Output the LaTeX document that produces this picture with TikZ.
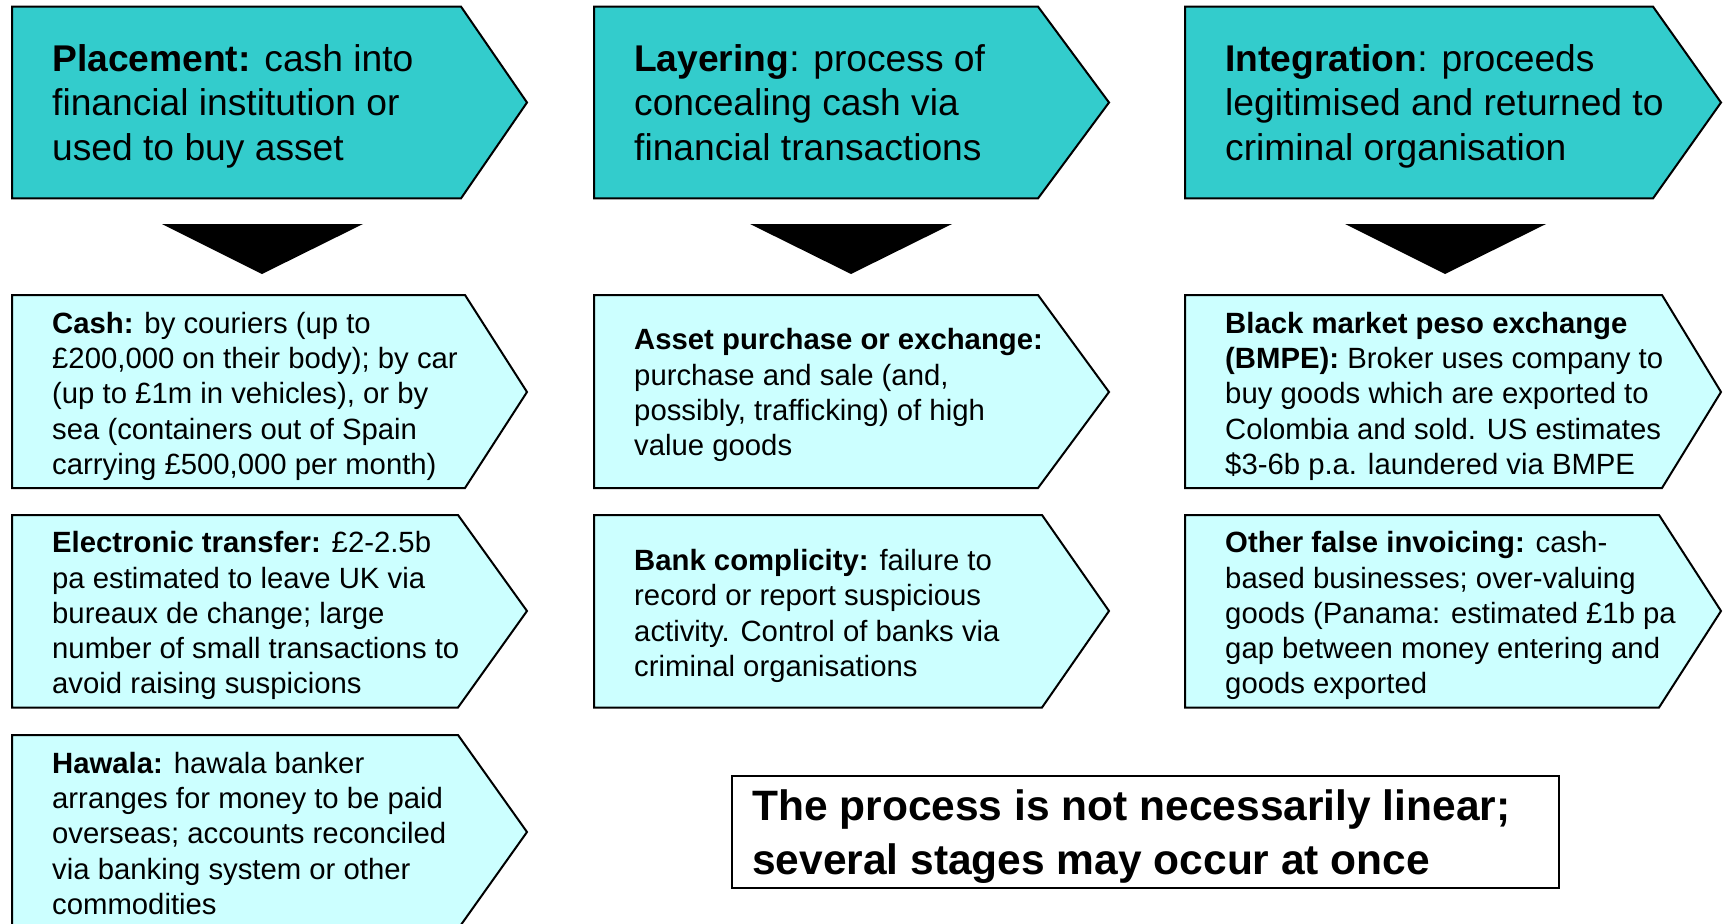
\documentclass[tikz,border=0pt]{standalone}
\usepackage{fontspec}
\setmainfont{Liberation Sans}
\definecolor{teal}{HTML}{33CCCC}
\definecolor{lcyan}{HTML}{CCFFFF}
\begin{document}
\begin{tikzpicture}[x=1pt,y=-1pt,
  chev/.style={draw=black,line width=2pt,line join=miter},
  head/.style={chev,fill=teal},
  item/.style={chev,fill=lcyan},
  headtxt/.style={anchor=north west,align=left,inner sep=0pt,font=\fontsize{37.2}{44.5}\selectfont},
  itemtxt/.style={anchor=north west,align=left,inner sep=0pt,font=\fontsize{29.3}{35.3}\selectfont},
  pointer/.style={fill=black},
  notebox/.style={draw=black,line width=1.5pt},
  notetxt/.style={anchor=north west,align=left,inner sep=0pt,font=\fontsize{42.5}{54.5}\selectfont\bfseries}
]
\useasboundingbox (0,0) rectangle (1728,923);
\clip (0,0) rectangle (1728,923);
% top row
\path[head] (12,6.6) -- (461,6.6) -- (527,102.5) -- (461,198.4) -- (12,198.4) -- cycle;
\path[head] (594,6.6) -- (1038,6.6) -- (1109,102.5) -- (1038,198.4) -- (594,198.4) -- cycle;
\path[head] (1185,6.6) -- (1653,6.6) -- (1721,102.5) -- (1653,198.4) -- (1185,198.4) -- cycle;
\node[headtxt] (plac) at (52,39.8) {\strut\textbf{Placement:} cash into\\financial institution or\\used to buy asset};
\node[headtxt] (lay) at (634,39.8) {\strut\textbf{Layering}: process of\\concealing cash via\\financial transactions};
\node[headtxt] (integ) at (1225,39.8) {\strut\textbf{Integration}: proceeds\\legitimised and returned to\\criminal organisation};
% pointers
\path[pointer] (162,224) -- (363,224) -- (262,274) -- cycle;
\path[pointer] (750,224) -- (952,224) -- (851,274) -- cycle;
\path[pointer] (1345,224) -- (1546,224) -- (1445,274) -- cycle;
% row 2
\path[item] (12,295) -- (465,295) -- (527,392) -- (465,488) -- (12,488) -- cycle;
\path[item] (594,295) -- (1038,295) -- (1109,392) -- (1038,488) -- (594,488) -- cycle;
\path[item] (1185,295) -- (1662,295) -- (1721,392) -- (1662,488) -- (1185,488) -- cycle;
\node[itemtxt] (cash) at (52,308.4) {\strut\textbf{Cash:} by couriers (up to\\£200,000 on their body); by car\\(up to £1m in vehicles), or by\\sea (containers out of Spain\\carrying £500,000 per month)};
\node[itemtxt] (asset) at (634,325) {\strut\textbf{Asset purchase or exchange:}\\purchase and sale (and,\\possibly, trafficking) of high\\value goods};
\node[itemtxt] (bmpe) at (1225,308.4) {\strut\textbf{Black market peso exchange}\\\textbf{(BMPE):} Broker uses company to\\buy goods which are exported to\\Colombia and sold. US estimates\\\$3-6b p.a. laundered via BMPE};
% row 3
\path[item] (12,515) -- (458,515) -- (527,611) -- (458,707.5) -- (12,707.5) -- cycle;
\path[item] (594,515) -- (1042,515) -- (1109,611) -- (1042,707.5) -- (594,707.5) -- cycle;
\path[item] (1185,515) -- (1659,515) -- (1721,611) -- (1659,707.5) -- (1185,707.5) -- cycle;
\node[itemtxt] (elec) at (52,527.8) {\strut\textbf{Electronic transfer:} £2-2.5b\\pa estimated to leave UK via\\bureaux de change; large\\number of small transactions to\\avoid raising suspicions};
\node[itemtxt] (bank) at (634,545.5) {\strut\textbf{Bank complicity:} failure to\\record or report suspicious\\activity. Control of banks via\\criminal organisations};
\node[itemtxt] (other) at (1225,527.8) {\strut\textbf{Other false invoicing:} cash-\\based businesses; over-valuing\\goods (Panama: estimated £1b pa\\gap between money entering and\\goods exported};
% row 4
\path[item] (12,735) -- (458,735) -- (527,832) -- (458,929) -- (12,929) -- cycle;
\node[itemtxt] (hawala) at (52,748.3) {\strut\textbf{Hawala:} hawala banker\\arranges for money to be paid\\overseas; accounts reconciled\\via banking system or other\\commodities};
% note
\node[notebox,minimum width=827pt,minimum height=112pt,anchor=north west,inner sep=0pt] (note) at (731,775) {};
\node[notetxt] (notetext) at (752,781.9) {\strut The process is not necessarily linear;\\several stages may occur at once};
\end{tikzpicture}
\end{document}
